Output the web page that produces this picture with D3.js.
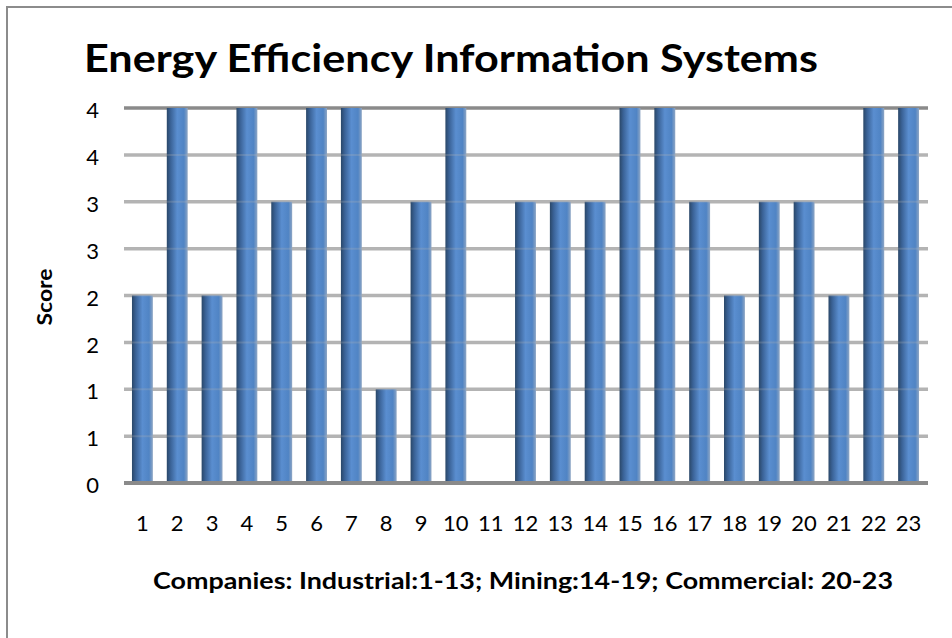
<!DOCTYPE html>
<html lang="en">
<head>
<meta charset="utf-8">
<title>Energy Efficiency Information Systems</title>
<script src="https://cdn.jsdelivr.net/npm/d3@7"></script>
<style>
  body { margin:0; background:#fff; }
  svg text { font-family: Lato, "Open Sans", Arial, sans-serif; fill:#000; }
</style>
</head>
<body>
<div id="chart"></div>
<script>
// data
var companies = ["1","2","3","4","5","6","7","8","9","10","11","12","13","14","15","16","17","18","19","20","21","22","23"]
var scores = [2,4,2,4,3,4,4,1,3,4,0,3,3,3,4,4,3,2,3,3,2,4,4]
var yTicks = [0,0.5,1,1.5,2,2.5,3,3.5,4]
var yTickLabels = ["0","1","1","2","2","3","3","4","4"]

var w = 952, h = 638
var svg = d3.select("#chart").append("svg")
  .attr("width", w).attr("height", h)

// outer chart border (only top/left visible)
svg.append("rect")
  .attr("x", 7).attr("y", 7)
  .attr("width", 960).attr("height", 660)
  .attr("fill", "none")
  .attr("stroke", "#8c8c8c")
  .attr("stroke-width", 2)

var defs = svg.append("defs")
var grad = defs.append("linearGradient")
  .attr("id", "barGrad")
  .attr("x1", "0%").attr("x2", "100%").attr("y1", "0%").attr("y2", "0%")
grad.append("stop").attr("offset", "0%").attr("stop-color", "#2a4768")
grad.append("stop").attr("offset", "18%").attr("stop-color", "#3a6296")
grad.append("stop").attr("offset", "50%").attr("stop-color", "#5a8ed0")
grad.append("stop").attr("offset", "82%").attr("stop-color", "#5084c4")
grad.append("stop").attr("offset", "100%").attr("stop-color", "#8ea6c4")

var x = d3.scaleBand()
  .domain(companies)
  .range([125, 926])
  .paddingInner(0.4)
  .paddingOuter(0.2)

var y = d3.scaleLinear()
  .domain([0, 4])
  .range([483, 108])

// gridlines
svg.append("g")
  .selectAll("line")
  .data(yTicks.filter(function(d){ return d > 0 }))
  .enter()
  .append("line")
  .attr("x1", 124).attr("x2", 928)
  .attr("y1", function(d){ return y(d) })
  .attr("y2", function(d){ return y(d) })
  .attr("stroke", function(d){ return d == 4 ? "#8a8a8a" : "#b4b4b4" })
  .attr("stroke-width", 3.5)

// bars
svg.append("g")
  .selectAll("rect")
  .data(scores)
  .enter()
  .append("rect")
  .attr("x", function(d, i){ return x(companies[i]) })
  .attr("y", function(d){ return y(d) })
  .attr("width", x.bandwidth())
  .attr("height", function(d){ return y(0) - y(d) })
  .attr("fill", "url(#barGrad)")

// faint grid showing through bars
svg.append("g")
  .selectAll("line")
  .data(yTicks.filter(function(d){ return d > 0 && d < 4 }))
  .enter()
  .append("line")
  .attr("x1", 124).attr("x2", 928)
  .attr("y1", function(d){ return y(d) })
  .attr("y2", function(d){ return y(d) })
  .attr("stroke", "#b4b4b4")
  .attr("stroke-opacity", 0.25)
  .attr("stroke-width", 2)

// zero baseline
svg.append("line")
  .attr("x1", 124).attr("x2", 928)
  .attr("y1", y(0)).attr("y2", y(0))
  .attr("stroke", "#8a8a8a")
  .attr("stroke-width", 4)

// y axis labels
var yAxis = d3.axisLeft(y)
  .tickValues(yTicks)
  .tickSize(0)
  .tickPadding(0)
  .tickFormat(function(d, i){ return yTickLabels[i] })
var gy = svg.append("g")
  .attr("transform", "translate(99,2)")
  .call(yAxis)
gy.select(".domain").remove()
gy.selectAll("text")
  .style("font-size", "22px")
  .attr("dy", "0.35em")

// x axis labels
var xAxis = d3.axisBottom(x).tickSize(0).tickPadding(0)
var gx = svg.append("g")
  .attr("transform", "translate(0,515)")
  .call(xAxis)
gx.select(".domain").remove()
gx.selectAll("text")
  .style("font-size", "22px")
  .attr("dy", "0.71em")

// title
svg.append("text")
  .attr("x", 451).attr("y", 72)
  .attr("text-anchor", "middle")
  .attr("textLength", 734)
  .attr("lengthAdjust", "spacingAndGlyphs")
  .style("font-size", "39px")
  .style("font-weight", "bold")
  .text("Energy Efficiency Information Systems")

// axis titles
svg.append("text")
  .attr("transform", "translate(52,297) rotate(-90)")
  .attr("text-anchor", "middle")
  .attr("textLength", 57)
  .attr("lengthAdjust", "spacingAndGlyphs")
  .style("font-size", "20px")
  .style("font-weight", "bold")
  .text("Score")

svg.append("text")
  .attr("x", 523).attr("y", 589)
  .attr("text-anchor", "middle")
  .attr("textLength", 740)
  .attr("lengthAdjust", "spacingAndGlyphs")
  .style("font-size", "23px")
  .style("font-weight", "bold")
  .text("Companies: Industrial:1-13; Mining:14-19; Commercial: 20-23")
</script>
</body>
</html>
